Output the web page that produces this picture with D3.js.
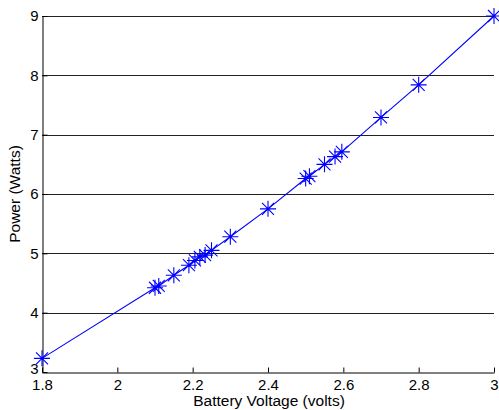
<!DOCTYPE html>
<html>
<head>
<meta charset="utf-8">
<script src="https://cdn.jsdelivr.net/npm/d3@7"></script>
<style>
  body { margin: 0; background: #fff; }
  svg { display: block; font-family: "Liberation Sans", Arial, Helvetica, sans-serif; }
</style>
</head>
<body>
<svg id="chart" width="499" height="410"></svg>
<script>
const voltage = [1.8, 2.1, 2.11, 2.15, 2.19, 2.206, 2.219, 2.233, 2.25, 2.3, 2.4, 2.5, 2.51, 2.55, 2.578, 2.596, 2.7, 2.8, 3.0];
const power   = [3.23, 4.42, 4.45, 4.63, 4.80, 4.88, 4.94, 4.97, 5.05, 5.28, 5.75, 6.26, 6.30, 6.50, 6.63, 6.71, 7.29, 7.84, 9.0];
const xTicks = [1.8, 2, 2.2, 2.4, 2.6, 2.8, 3];
const yTicks = [3, 4, 5, 6, 7, 8, 9];
const xLabel = "Battery Voltage (volts)";
const yLabel = "Power (Watts)";

const svg = d3.select("#chart");
const L = 42, R = 494, T = 16, B = 372;
const x = d3.scaleLinear().domain([1.8, 3]).range([L, R]);
const y = d3.scaleLinear().domain([3, 9]).range([B, T]);

// horizontal grid lines
svg.append("g").selectAll("line").data(yTicks.filter(d => d > 3)).join("line")
  .attr("x1", L).attr("x2", R)
  .attr("y1", d => Math.round(y(d)) + 0.5).attr("y2", d => Math.round(y(d)) + 0.5)
  .attr("stroke", "#222").attr("stroke-width", 1);

// x axis
const xAxis = d3.axisBottom(x).tickValues(xTicks).tickSizeInner(-5).tickSizeOuter(0).tickPadding(7)
  .tickFormat(d3.format("~g"));
const gx = svg.append("g").attr("transform", `translate(0,${B + 0.5})`).call(xAxis);
gx.select(".domain").attr("stroke", "#000");
gx.selectAll(".tick line").attr("stroke", "#000");
gx.selectAll(".tick text").attr("font-size", 15).attr("fill", "#000").attr("font-family", null);

// y axis
const yAxis = d3.axisLeft(y).tickValues(yTicks).tickSizeInner(-5).tickSizeOuter(0).tickPadding(4)
  .tickFormat(d3.format("~g"));
const gy = svg.append("g").attr("transform", `translate(${L + 0.5},0)`).call(yAxis);
gy.select(".domain").attr("stroke", "#000");
gy.selectAll(".tick line").attr("stroke", "#000");
gy.selectAll(".tick text").attr("font-size", 15).attr("fill", "#000").attr("font-family", null);
gy.selectAll(".tick text").filter(d => d === 3).attr("dy", "0.08em");

// line
const pts = voltage.map((v, i) => [v, power[i]]);
svg.append("path").datum(pts)
  .attr("fill", "none").attr("stroke", "#0000ff").attr("stroke-width", 1.1)
  .attr("d", d3.line().x(d => x(d[0])).y(d => y(d[1])));

// asterisk markers
const a = 8, b = 6;
const star = `M${-a},0L${a},0M0,${-a}L0,${a}M${-b},${-b}L${b},${b}M${-b},${b}L${b},${-b}`;
svg.append("g").selectAll("path").data(pts).join("path")
  .attr("transform", d => `translate(${x(d[0])},${y(d[1])})`)
  .attr("d", star).attr("fill", "none").attr("stroke", "#0000ff").attr("stroke-width", 1.1);

// axis labels
svg.append("text").attr("x", (L + R) / 2 + 1).attr("y", 406).attr("text-anchor", "middle")
  .attr("font-size", 15.5).attr("fill", "#000").text(xLabel);
svg.append("text").attr("transform", `translate(20,${(T + B) / 2}) rotate(-90)`)
  .attr("text-anchor", "middle").attr("font-size", 15.5).attr("fill", "#000").text(yLabel);
</script>
</body>
</html>
